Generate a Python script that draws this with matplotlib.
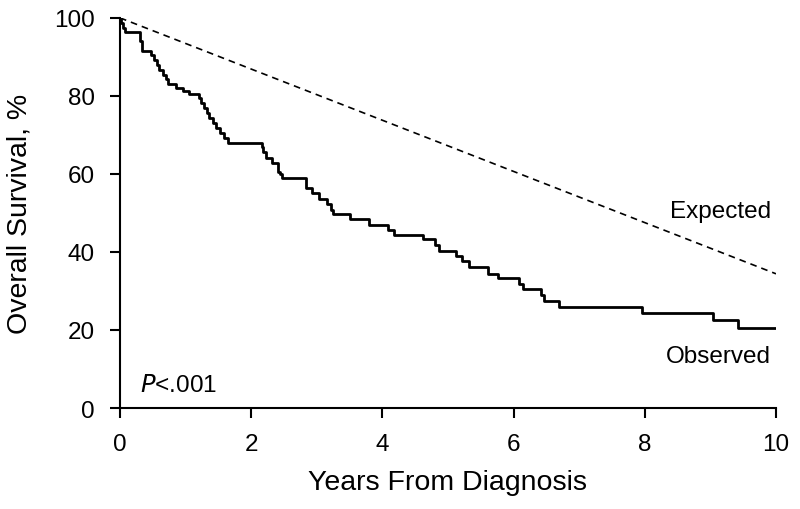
import numpy as np
import matplotlib.pyplot as plt

plt.rcParams['font.family'] = ['Liberation Sans', 'DejaVu Sans']

# Kaplan-Meier steps (years, % surviving after the step)
observed_years = [0, 0.01, 0.05, 0.08, 0.30, 0.31, 0.33, 0.475, 0.52, 0.56, 0.60, 0.66, 0.70, 0.73,
                  0.86, 0.96, 1.05, 1.20, 1.24, 1.28, 1.33, 1.36, 1.42, 1.46, 1.52, 1.58, 1.64,
                  2.17, 2.18, 2.23, 2.32, 2.41, 2.44, 2.47, 2.83, 2.93, 3.03, 3.15, 3.21, 3.25,
                  3.51, 3.80, 4.08, 4.18, 4.62, 4.80, 4.87, 5.12, 5.22, 5.32, 5.61, 5.76,
                  6.08, 6.15, 6.42, 6.47, 6.69, 7.95, 9.04, 9.42]
observed_pct = [100, 98.7, 97.4, 96.4, 95.3, 94.0, 91.6, 90.6, 89.3, 88.0, 86.7, 85.4, 84.4, 83.0,
                82.0, 81.3, 80.5, 79.4, 78.2, 76.9, 75.6, 74.3, 73.0, 71.7, 70.4, 69.1, 67.9,
                66.8, 65.7, 64.2, 62.7, 60.6, 59.9, 58.9, 56.3, 55.0, 53.7, 52.2, 50.7, 49.7,
                48.4, 47.0, 45.6, 44.3, 43.3, 41.7, 40.3, 39.0, 37.7, 36.2, 34.4, 33.2,
                31.9, 30.4, 28.9, 27.4, 25.9, 24.3, 22.6, 20.5]
last_year = 10.0

expected_years = [0, 10]
expected_pct = [100, 34.4]

fig = plt.figure(figsize=(8, 5.1), dpi=100)
ax = fig.add_axes([0.15, 0.198, 0.82, 0.765])

# extend the last step to the end of follow-up
plt.step(observed_years + [last_year], observed_pct + [observed_pct[-1]], where='post',
         color='black', linewidth=2)
plt.plot(expected_years, expected_pct, color='black', linestyle=(0, (4, 3)), linewidth=1.2)

plt.xlim(0, 10)
plt.ylim(0, 100)
plt.xticks(np.arange(0, 11, 2), fontsize=17.5)
plt.yticks(np.arange(0, 101, 20), fontsize=17.5)
plt.xlabel('Years From Diagnosis', fontsize=20.5, labelpad=10)
plt.ylabel('Overall Survival, %', fontsize=20.5, labelpad=16)

ax.spines['top'].set_visible(False)
ax.spines['right'].set_visible(False)
ax.spines['left'].set_linewidth(1.5)
ax.spines['bottom'].set_linewidth(1.5)
ax.tick_params(direction='out', length=7, width=1.5, pad=11)

plt.text(9.92, 49.0, 'Expected', fontsize=17.5, ha='right', va='baseline')
plt.text(9.92, 11.7, 'Observed', fontsize=17.5, ha='right', va='baseline')
plt.text(0.31, 4.4, r'$\it{P}$<.001', fontsize=17.5, ha='left', va='baseline')

plt.savefig('out.png', dpi=100)
